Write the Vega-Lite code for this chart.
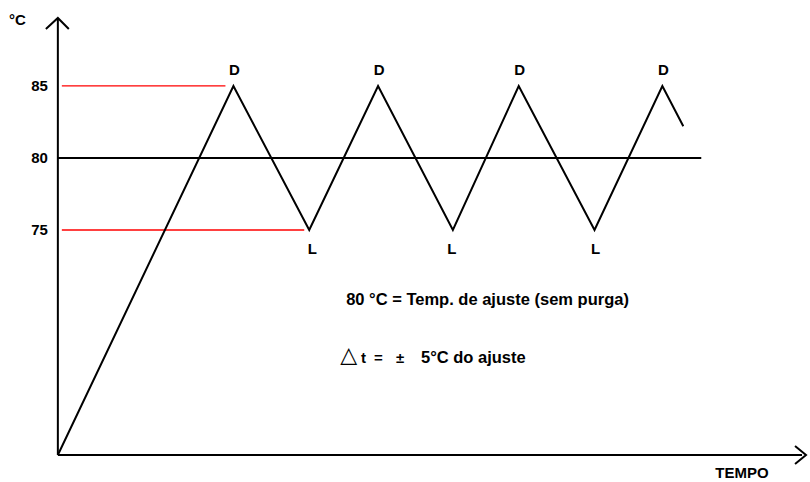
{
  "$schema": "https://vega.github.io/schema/vega-lite/v6.json",
  "width": 810,
  "height": 482,
  "autosize": {"type": "fit", "contains": "padding"},
  "padding": 0,
  "background": "white",
  "config": {"view": {"stroke": null}, "text": {"font": "Liberation Sans", "fontWeight": "bold", "fontSize": 15, "color": "black"}},
  "layer": [
    {
      "data": {"values": [
        {"t": 62, "t2": 226, "temp": 85},
        {"t": 62, "t2": 305, "temp": 75}
      ]},
      "mark": {"type": "rule", "color": "#ff0000", "strokeWidth": 1.3},
      "encoding": {
        "x": {"field": "t", "type": "quantitative", "scale": {"domain": [0, 810]}, "axis": null},
        "x2": {"field": "t2"},
        "y": {"field": "temp", "type": "quantitative", "scale": {"domain": [57.5, 90.97]}, "axis": null}
      }
    },
    {
      "data": {"values": [
        {"t": 58, "t2": 703, "temp": 80, "temp2": 80},
        {"t": 58, "t2": 58, "temp": 59.375, "temp2": 89.72},
        {"t": 58, "t2": 804, "temp": 59.375, "temp2": 59.375}
      ]},
      "mark": {"type": "rule", "color": "black", "strokeWidth": 2},
      "encoding": {
        "x": {"field": "t", "type": "quantitative", "scale": {"domain": [0, 810]}, "axis": null},
        "x2": {"field": "t2"},
        "y": {"field": "temp", "type": "quantitative", "scale": {"domain": [57.5, 90.97]}, "axis": null},
        "y2": {"field": "temp2"}
      }
    },
    {
      "data": {"values": [
        {"seg": "y", "o": 1, "t": 46, "temp": 88.96},
        {"seg": "y", "o": 2, "t": 58, "temp": 89.72},
        {"seg": "y", "o": 3, "t": 69, "temp": 88.96},
        {"seg": "x", "o": 1, "t": 797, "temp": 60.0},
        {"seg": "x", "o": 2, "t": 808, "temp": 59.375},
        {"seg": "x", "o": 3, "t": 797, "temp": 58.75}
      ]},
      "mark": {"type": "line", "color": "black", "strokeWidth": 2},
      "encoding": {
        "x": {"field": "t", "type": "quantitative", "scale": {"domain": [0, 810]}, "axis": null},
        "y": {"field": "temp", "type": "quantitative", "scale": {"domain": [57.5, 90.97]}, "axis": null},
        "detail": {"field": "seg"},
        "order": {"field": "o"}
      }
    },
    {
      "data": {"values": [
        {"o": 1, "t": 58, "temp": 59.375},
        {"o": 2, "t": 234, "temp": 85},
        {"o": 3, "t": 310, "temp": 75},
        {"o": 4, "t": 379, "temp": 85},
        {"o": 5, "t": 454, "temp": 75},
        {"o": 6, "t": 520, "temp": 85},
        {"o": 7, "t": 596, "temp": 75},
        {"o": 8, "t": 664, "temp": 85},
        {"o": 9, "t": 685, "temp": 82.2}
      ]},
      "mark": {"type": "line", "color": "black", "strokeWidth": 2},
      "encoding": {
        "x": {"field": "t", "type": "quantitative", "scale": {"domain": [0, 810]}, "axis": null},
        "y": {"field": "temp", "type": "quantitative", "scale": {"domain": [57.5, 90.97]}, "axis": null},
        "order": {"field": "o"}
      }
    },
    {
      "data": {"values": [
        {"t": 235, "temp": 86.11, "label": "D"},
        {"t": 380, "temp": 86.11, "label": "D"},
        {"t": 521, "temp": 86.11, "label": "D"},
        {"t": 665, "temp": 86.11, "label": "D"},
        {"t": 313, "temp": 73.68, "label": "L"},
        {"t": 453, "temp": 73.68, "label": "L"},
        {"t": 597, "temp": 73.68, "label": "L"}
      ]},
      "mark": {"type": "text", "align": "center", "baseline": "middle"},
      "encoding": {
        "x": {"field": "t", "type": "quantitative", "scale": {"domain": [0, 810]}, "axis": null},
        "y": {"field": "temp", "type": "quantitative", "scale": {"domain": [57.5, 90.97]}, "axis": null},
        "text": {"field": "label"}
      }
    },
    {
      "data": {"values": [
        {"t": 48, "temp": 85, "label": "85"},
        {"t": 48, "temp": 80, "label": "80"},
        {"t": 48, "temp": 75, "label": "75"}
      ]},
      "mark": {"type": "text", "align": "right", "baseline": "middle"},
      "encoding": {
        "x": {"field": "t", "type": "quantitative", "scale": {"domain": [0, 810]}, "axis": null},
        "y": {"field": "temp", "type": "quantitative", "scale": {"domain": [57.5, 90.97]}, "axis": null},
        "text": {"field": "label"}
      }
    },
    {
      "data": {"values": [
        {"t": 9, "temp": 89.58, "label": "°C"},
        {"t": 717, "temp": 58.13, "label": "TEMPO"},
        {"t": 362, "temp": 66.11, "label": "t"},
        {"t": 375, "temp": 66.11, "label": "="},
        {"t": 397, "temp": 66.11, "label": "±"}
      ]},
      "mark": {"type": "text", "align": "left", "baseline": "middle"},
      "encoding": {
        "x": {"field": "t", "type": "quantitative", "scale": {"domain": [0, 810]}, "axis": null},
        "y": {"field": "temp", "type": "quantitative", "scale": {"domain": [57.5, 90.97]}, "axis": null},
        "text": {"field": "label"}
      }
    },
    {
      "data": {"values": [
        {"t": 347, "temp": 70.14, "label": "80 °C = Temp. de ajuste (sem purga)"},
        {"t": 422, "temp": 66.11, "label": "5°C do ajuste"}
      ]},
      "mark": {"type": "text", "align": "left", "baseline": "middle", "fontSize": 16.5},
      "encoding": {
        "x": {"field": "t", "type": "quantitative", "scale": {"domain": [0, 810]}, "axis": null},
        "y": {"field": "temp", "type": "quantitative", "scale": {"domain": [57.5, 90.97]}, "axis": null},
        "text": {"field": "label"}
      }
    },
    {
      "data": {"values": [
        {"t": 341, "temp": 66.3, "label": "△"}
      ]},
      "mark": {"type": "text", "align": "left", "baseline": "middle", "font": "DejaVu Sans", "fontWeight": "normal", "fontSize": 22},
      "encoding": {
        "x": {"field": "t", "type": "quantitative", "scale": {"domain": [0, 810]}, "axis": null},
        "y": {"field": "temp", "type": "quantitative", "scale": {"domain": [57.5, 90.97]}, "axis": null},
        "text": {"field": "label"}
      }
    }
  ]
}
